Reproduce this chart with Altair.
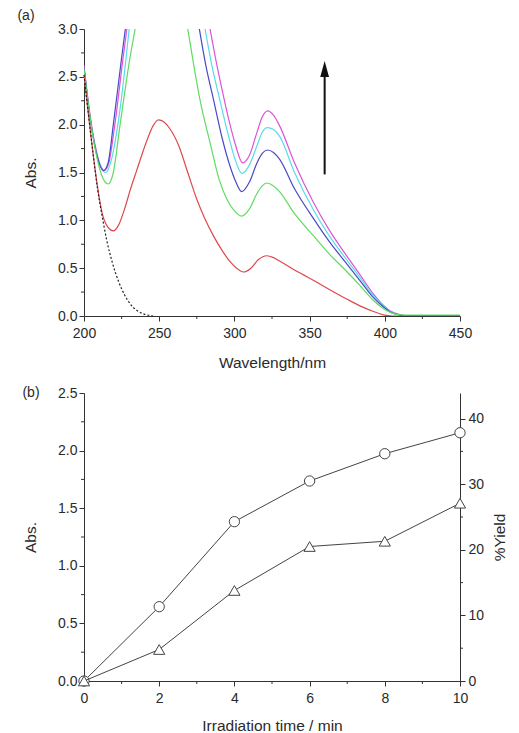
import altair as alt
import pandas as pd

# ---------------- Panel (a): UV-vis spectra ----------------
# t = 0 (dotted black)
dot_wl = [200, 203, 206, 209, 212, 215, 219, 223, 227, 231, 235, 240, 246]
dot_abs = [2.52, 2.10, 1.70, 1.33, 1.05, 0.80, 0.55, 0.36, 0.22, 0.12, 0.06, 0.02, 0.0]

# t = 2 min (red)
red_wl = [200, 203, 206, 209, 212, 215, 219.5, 223, 227, 231, 235, 241.7, 246, 249.5, 253, 257,
          263, 269, 275, 280, 286, 292, 297, 301.5, 306, 311, 316, 321.5, 326, 330, 338, 346, 354,
          364, 375, 385, 392, 399, 405, 450]
red_abs = [2.52, 2.10, 1.70, 1.35, 1.08, 0.95, 0.89, 0.95, 1.12, 1.33, 1.52, 1.83, 1.99, 2.05,
           2.03, 1.96, 1.78, 1.50, 1.22, 1.03, 0.84, 0.68, 0.57, 0.50, 0.46, 0.50, 0.59, 0.63,
           0.61, 0.575, 0.50, 0.43, 0.36, 0.27, 0.175, 0.095, 0.05, 0.012, 0.0, 0.0]

# t = 4 min (green)
green_wl_l = [200, 204, 208, 212, 216, 219.5, 224, 230.6, 234]
green_abs_l = [2.58, 2.08, 1.70, 1.46, 1.38, 1.50, 2.00, 2.70, 3.0]
green_wl_r = [269, 273, 277, 284, 290, 295, 299.5, 304.8, 310, 315, 318.5, 321.5, 326, 330, 340,
              352.5, 363, 375, 384, 392, 398, 404, 410, 415, 450]
green_abs_r = [3.0, 2.62, 2.27, 1.80, 1.42, 1.22, 1.11, 1.045, 1.12, 1.28, 1.36, 1.39, 1.36, 1.30,
               1.07, 0.84, 0.65, 0.46, 0.31, 0.17, 0.09, 0.035, 0.012, 0.01, 0.01]

# t = 6 min (blue)
blue_wl_l = [200, 204, 208, 211, 213, 216, 219.5, 225, 227.5]
blue_abs_l = [2.60, 2.08, 1.72, 1.56, 1.52, 1.60, 2.00, 2.70, 3.0]
blue_wl_r = [276.7, 281, 286, 292, 297, 301, 304.8, 310, 315, 318.5, 322, 326, 330, 340, 352.5,
             363, 375, 384, 392, 398, 404, 410, 415, 450]
blue_abs_r = [3.0, 2.62, 2.27, 1.85, 1.57, 1.40, 1.30, 1.40, 1.60, 1.70, 1.735, 1.71, 1.64, 1.33,
              1.02, 0.78, 0.54, 0.36, 0.20, 0.11, 0.04, 0.01, 0.0, 0.0]

# t = 8 min (cyan)
cyan_wl_l = [200, 204, 208, 211.5, 214.5, 218, 222.5, 228, 230]
cyan_abs_l = [2.60, 2.08, 1.72, 1.55, 1.50, 1.62, 2.00, 2.70, 3.0]
cyan_wl_r = [280.5, 285, 290, 295, 300, 305, 310, 315, 318.5, 322, 326, 330, 340, 352.5, 363,
             375, 384, 392, 398, 404, 410, 415, 450]
cyan_abs_r = [3.0, 2.62, 2.28, 1.95, 1.66, 1.49, 1.58, 1.78, 1.92, 1.97, 1.95, 1.88, 1.50, 1.11,
              0.84, 0.58, 0.39, 0.22, 0.12, 0.045, 0.012, 0.0, 0.0]

# t = 10 min (magenta)
mag_wl_l = [200, 204, 208, 211, 213.5, 216.5, 220.5, 226, 228.5]
mag_abs_l = [2.62, 2.10, 1.74, 1.57, 1.52, 1.60, 2.00, 2.70, 3.0]
mag_wl_r = [283.8, 288, 292, 296, 300.5, 305.5, 310, 315, 318.5, 322, 326, 330, 340, 352.5, 363,
            375, 384, 392, 398, 404, 410, 415, 450]
mag_abs_r = [3.0, 2.65, 2.35, 2.07, 1.80, 1.60, 1.68, 1.92, 2.08, 2.145, 2.10, 1.99, 1.60, 1.19,
             0.90, 0.62, 0.42, 0.24, 0.13, 0.05, 0.015, 0.0, 0.0]

curve_names = ["2 min", "4 min", "6 min", "8 min", "10 min"]
curve_colors = ["#e0474a", "#5fdc5f", "#4a48c4", "#58dcea", "#e052d8"]

arrow_wl = [360]
arrow_from = [1.48]
arrow_to = [2.55]
arrow_tip = [2.665]

wl_ticks = [200, 250, 300, 350, 400, 450]
wl_minor = [225, 275, 325, 375, 425]
abs_ticks_a = [0, 0.5, 1.0, 1.5, 2.0, 2.5, 3.0]
abs_minor_a = [0.25, 0.75, 1.25, 1.75, 2.25, 2.75]

# ---------------- Panel (b): kinetics ----------------
time_min = [0, 2, 4, 6, 8, 10]
abs_320 = [0.0, 0.645, 1.383, 1.736, 1.973, 2.155]
yield_pct = [0.0, 4.8, 13.8, 20.5, 21.3, 27.1]
time_ticks = [0, 2, 4, 6, 8, 10]
time_minor = [1, 3, 5, 7, 9]
abs_ticks_b = [0, 0.5, 1.0, 1.5, 2.0, 2.5]
abs_minor_b = [0.25, 0.75, 1.25, 1.75, 2.25]
yield_ticks = [0, 10, 20, 30, 40]
yield_minor = [5, 15, 25, 35]

# ---------------- build tables ----------------
def seg(name, wl, ab, part):
    return pd.DataFrame({"wl": wl, "A": ab, "curve": name, "seg": name + "-" + part})

spec = pd.concat([
    seg("10 min", mag_wl_l, mag_abs_l, "l"), seg("10 min", mag_wl_r, mag_abs_r, "r"),
    seg("8 min", cyan_wl_l, cyan_abs_l, "l"), seg("8 min", cyan_wl_r, cyan_abs_r, "r"),
    seg("6 min", blue_wl_l, blue_abs_l, "l"), seg("6 min", blue_wl_r, blue_abs_r, "r"),
    seg("4 min", green_wl_l, green_abs_l, "l"), seg("4 min", green_wl_r, green_abs_r, "r"),
    seg("2 min", red_wl, red_abs, "a"),
], ignore_index=True)
spec["order"] = range(len(spec))
dot = pd.DataFrame({"wl": dot_wl, "A": dot_abs})

FONT = "Liberation Sans"
AX = "#333333"
TXT = "#2a2a2a"
W, H = 376, 287
H2 = 288

axis_common = dict(grid=False, domainColor=AX, tickColor=AX, labelColor=TXT, titleColor=TXT,
                   labelFont=FONT, titleFont=FONT, labelFontSize=14, titleFontSize=15.5,
                   titleFontWeight="normal", tickSize=5, domainWidth=1, tickWidth=1,
                   labelFlush=False)

ax_wl = alt.Axis(values=wl_ticks, title="Wavelength/nm", format="d",
                 labelPadding=5, titlePadding=15, **axis_common)
ax_abs_a = alt.Axis(values=abs_ticks_a, title="Abs.", format=".1f",
                    labelPadding=2, titlePadding=19, **axis_common)
sc_wl = alt.Scale(domain=[200, 450], nice=False)
sc_abs_a = alt.Scale(domain=[0, 3], nice=False)

lines_a = alt.Chart(spec).mark_line(strokeWidth=1.2, interpolate="monotone", clip=True).encode(
    x=alt.X("wl:Q", scale=sc_wl, axis=ax_wl),
    y=alt.Y("A:Q", scale=sc_abs_a, axis=ax_abs_a),
    color=alt.Color("curve:N", scale=alt.Scale(domain=curve_names, range=curve_colors), legend=None),
    detail="seg:N", order="order:Q")

dot_line = alt.Chart(dot).mark_line(strokeWidth=1.2, strokeDash=[2, 2], color="#222222",
                                    interpolate="monotone").encode(
    x=alt.X("wl:Q", scale=sc_wl, axis=ax_wl), y=alt.Y("A:Q", scale=sc_abs_a, axis=ax_abs_a))

arrow_df = pd.DataFrame({"wl": arrow_wl, "A": arrow_from, "A2": arrow_to, "tip": arrow_tip})
arrow_shaft = alt.Chart(arrow_df).mark_rule(strokeWidth=2, color="#111111").encode(
    x=alt.X("wl:Q", scale=sc_wl, axis=ax_wl), y=alt.Y("A:Q", scale=sc_abs_a, axis=ax_abs_a),
    y2="A2:Q")
arrow_head = alt.Chart(arrow_df).mark_point(shape="M0,0L0.55,2L-0.55,2Z", size=256, filled=True,
                                             color="#111111", opacity=1).encode(
    x=alt.X("wl:Q", scale=sc_wl, axis=ax_wl), y=alt.Y("tip:Q", scale=sc_abs_a, axis=ax_abs_a))

minor_x_a = alt.Chart(pd.DataFrame({"wl": wl_minor})).mark_rule(color=AX, strokeWidth=1).encode(
    x=alt.X("wl:Q", scale=sc_wl, axis=ax_wl), y=alt.value(H), y2=alt.value(H + 3))
minor_y_a = alt.Chart(pd.DataFrame({"A": abs_minor_a})).mark_rule(color=AX, strokeWidth=1).encode(
    y=alt.Y("A:Q", scale=sc_abs_a, axis=ax_abs_a), x=alt.value(0), x2=alt.value(-3))

label_a = alt.Chart(pd.DataFrame({"t": ["(a)"]})).mark_text(
    font=FONT, fontSize=14, color=TXT, align="center", baseline="middle").encode(
    text="t:N", x=alt.value(-58), y=alt.value(-13))

top = alt.layer(lines_a, dot_line, arrow_shaft, arrow_head, minor_x_a, minor_y_a, label_a).properties(
    width=W, height=H)

# ---------------- panel (b) ----------------
kin = pd.DataFrame({"t": time_min, "A": abs_320, "Y": yield_pct})

ax_t = alt.Axis(values=time_ticks, title="Irradiation time / min", format="d",
                labelPadding=5, titlePadding=13, **axis_common)
ax_abs_b = alt.Axis(values=abs_ticks_b, title="Abs.", format=".1f",
                    labelPadding=2, titlePadding=19, **axis_common)
ax_y = alt.Axis(values=yield_ticks, title="%Yield", format="d", orient="right",
                titleAngle=-90, labelPadding=3, titlePadding=24, **axis_common)
sc_t = alt.Scale(domain=[0, 10], nice=False)
sc_abs_b = alt.Scale(domain=[0, 2.5], nice=False)
sc_y = alt.Scale(domain=[0, 43.9], nice=False)

base_b = alt.Chart(kin)
xb = alt.X("t:Q", scale=sc_t, axis=ax_t)
abs_line = base_b.mark_line(color="#444444", strokeWidth=1).encode(
    x=xb, y=alt.Y("A:Q", scale=sc_abs_b, axis=ax_abs_b))
abs_pts = base_b.mark_point(shape="circle", size=106, filled=True, fill="white", stroke="#444444",
                            strokeWidth=1, opacity=1).encode(
    x=xb, y=alt.Y("A:Q", scale=sc_abs_b, axis=ax_abs_b))
minor_x_b = alt.Chart(pd.DataFrame({"t": time_minor})).mark_rule(color=AX, strokeWidth=1).encode(
    x=xb, y=alt.value(H2), y2=alt.value(H2 + 3))
minor_yl_b = alt.Chart(pd.DataFrame({"A": abs_minor_b})).mark_rule(color=AX, strokeWidth=1).encode(
    y=alt.Y("A:Q", scale=sc_abs_b, axis=ax_abs_b), x=alt.value(0), x2=alt.value(-3))
label_b = alt.Chart(pd.DataFrame({"t": ["(b)"]})).mark_text(
    font=FONT, fontSize=14, color=TXT, align="center", baseline="middle").encode(
    text="t:N", x=alt.value(-53), y=alt.value(0))
left_b = alt.layer(abs_line, abs_pts, minor_x_b, minor_yl_b, label_b)

yield_line = base_b.mark_line(color="#444444", strokeWidth=1).encode(
    x=xb, y=alt.Y("Y:Q", scale=sc_y, axis=ax_y))
yield_pts = base_b.mark_point(shape="triangle-up", size=125, filled=True, fill="white",
                              stroke="#444444", strokeWidth=1, opacity=1).encode(
    x=xb, y=alt.Y("Y:Q", scale=sc_y, axis=ax_y))
minor_yr_b = alt.Chart(pd.DataFrame({"Y": yield_minor})).mark_rule(color=AX, strokeWidth=1).encode(
    y=alt.Y("Y:Q", scale=sc_y, axis=ax_y), x=alt.value(W), x2=alt.value(W + 3))
right_b = alt.layer(yield_line, yield_pts, minor_yr_b)

bottom = alt.layer(left_b, right_b).resolve_scale(y="independent").properties(width=W, height=H2)

chart = alt.vconcat(top, bottom, spacing=15).properties(
    padding={"left": 9, "top": 1, "right": 0, "bottom": 0},
    background="white"
).configure_view(stroke=None)

chart.save("out.html", embed_options={"renderer": "svg", "actions": False})
